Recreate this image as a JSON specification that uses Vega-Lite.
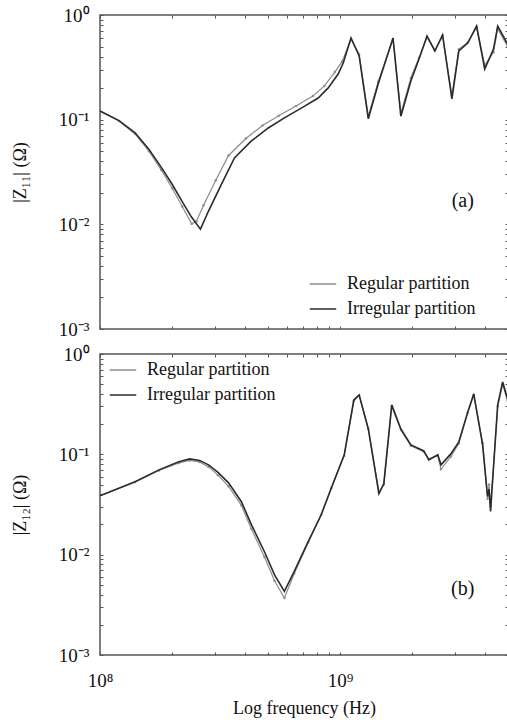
{
  "$schema": "https://vega.github.io/schema/vega-lite/v6.json",
  "padding": {"left": 10, "top": 5, "right": 0, "bottom": 2},
  "config": {
    "font": "Liberation Serif",
    "view": {"stroke": "#555555", "strokeWidth": 1.5},
    "axis": {
      "grid": false, "domain": false,
      "labelFont": "Liberation Serif", "labelFontSize": 19, "labelColor": "#111111",
      "titleFont": "Liberation Serif", "titleFontSize": 18, "titleFontWeight": "normal", "titleColor": "#111111",
      "tickColor": "#555555", "tickSize": -3, "labelOverlap": false, "labelFlush": false
    },
    "legend": {"labelFont": "Liberation Serif", "labelFontSize": 18, "labelColor": "#111111"}
  },
  "datasets": {
    "curves": [
      {"p": "a", "s": "Irregular partition", "f": 1.00e8, "z": 0.121},
      {"p": "a", "s": "Irregular partition", "f": 1.20e8, "z": 0.098},
      {"p": "a", "s": "Irregular partition", "f": 1.40e8, "z": 0.075},
      {"p": "a", "s": "Irregular partition", "f": 1.60e8, "z": 0.052},
      {"p": "a", "s": "Irregular partition", "f": 1.80e8, "z": 0.035},
      {"p": "a", "s": "Irregular partition", "f": 2.00e8, "z": 0.024},
      {"p": "a", "s": "Irregular partition", "f": 2.20e8, "z": 0.0165},
      {"p": "a", "s": "Irregular partition", "f": 2.40e8, "z": 0.0118},
      {"p": "a", "s": "Irregular partition", "f": 2.62e8, "z": 0.0090},
      {"p": "a", "s": "Irregular partition", "f": 2.83e8, "z": 0.0134},
      {"p": "a", "s": "Irregular partition", "f": 3.21e8, "z": 0.0243},
      {"p": "a", "s": "Irregular partition", "f": 3.63e8, "z": 0.0431},
      {"p": "a", "s": "Irregular partition", "f": 4.27e8, "z": 0.0626},
      {"p": "a", "s": "Irregular partition", "f": 5.02e8, "z": 0.0833},
      {"p": "a", "s": "Irregular partition", "f": 5.86e8, "z": 0.104},
      {"p": "a", "s": "Irregular partition", "f": 6.89e8, "z": 0.129},
      {"p": "a", "s": "Irregular partition", "f": 8.10e8, "z": 0.161},
      {"p": "a", "s": "Irregular partition", "f": 8.92e8, "z": 0.201},
      {"p": "a", "s": "Irregular partition", "f": 9.81e8, "z": 0.273},
      {"p": "a", "s": "Irregular partition", "f": 1.03e9, "z": 0.348},
      {"p": "a", "s": "Irregular partition", "f": 1.11e9, "z": 0.603},
      {"p": "a", "s": "Irregular partition", "f": 1.20e9, "z": 0.406},
      {"p": "a", "s": "Irregular partition", "f": 1.31e9, "z": 0.102},
      {"p": "a", "s": "Irregular partition", "f": 1.44e9, "z": 0.219},
      {"p": "a", "s": "Irregular partition", "f": 1.66e9, "z": 0.603},
      {"p": "a", "s": "Irregular partition", "f": 1.79e9, "z": 0.108},
      {"p": "a", "s": "Irregular partition", "f": 1.97e9, "z": 0.234},
      {"p": "a", "s": "Irregular partition", "f": 2.13e9, "z": 0.380},
      {"p": "a", "s": "Irregular partition", "f": 2.30e9, "z": 0.630},
      {"p": "a", "s": "Irregular partition", "f": 2.48e9, "z": 0.453},
      {"p": "a", "s": "Irregular partition", "f": 2.67e9, "z": 0.644},
      {"p": "a", "s": "Irregular partition", "f": 2.92e9, "z": 0.158},
      {"p": "a", "s": "Irregular partition", "f": 3.12e9, "z": 0.453},
      {"p": "a", "s": "Irregular partition", "f": 3.40e9, "z": 0.540},
      {"p": "a", "s": "Irregular partition", "f": 3.70e9, "z": 0.785},
      {"p": "a", "s": "Irregular partition", "f": 4.00e9, "z": 0.305},
      {"p": "a", "s": "Irregular partition", "f": 4.35e9, "z": 0.473},
      {"p": "a", "s": "Irregular partition", "f": 4.53e9, "z": 0.785},
      {"p": "a", "s": "Irregular partition", "f": 4.98e9, "z": 0.528},

      {"p": "a", "s": "Regular partition", "f": 1.00e8, "z": 0.121},
      {"p": "a", "s": "Regular partition", "f": 1.20e8, "z": 0.097},
      {"p": "a", "s": "Regular partition", "f": 1.40e8, "z": 0.073},
      {"p": "a", "s": "Regular partition", "f": 1.60e8, "z": 0.050},
      {"p": "a", "s": "Regular partition", "f": 1.80e8, "z": 0.033},
      {"p": "a", "s": "Regular partition", "f": 2.00e8, "z": 0.022},
      {"p": "a", "s": "Regular partition", "f": 2.20e8, "z": 0.0148},
      {"p": "a", "s": "Regular partition", "f": 2.41e8, "z": 0.0101},
      {"p": "a", "s": "Regular partition", "f": 2.52e8, "z": 0.0107},
      {"p": "a", "s": "Regular partition", "f": 2.70e8, "z": 0.0152},
      {"p": "a", "s": "Regular partition", "f": 3.03e8, "z": 0.0262},
      {"p": "a", "s": "Regular partition", "f": 3.43e8, "z": 0.0455},
      {"p": "a", "s": "Regular partition", "f": 4.05e8, "z": 0.066},
      {"p": "a", "s": "Regular partition", "f": 4.75e8, "z": 0.088},
      {"p": "a", "s": "Regular partition", "f": 5.55e8, "z": 0.109},
      {"p": "a", "s": "Regular partition", "f": 6.55e8, "z": 0.135},
      {"p": "a", "s": "Regular partition", "f": 7.70e8, "z": 0.168},
      {"p": "a", "s": "Regular partition", "f": 8.60e8, "z": 0.210},
      {"p": "a", "s": "Regular partition", "f": 9.50e8, "z": 0.285},
      {"p": "a", "s": "Regular partition", "f": 1.02e9, "z": 0.36},
      {"p": "a", "s": "Regular partition", "f": 1.11e9, "z": 0.59},
      {"p": "a", "s": "Regular partition", "f": 1.20e9, "z": 0.42},
      {"p": "a", "s": "Regular partition", "f": 1.31e9, "z": 0.108},
      {"p": "a", "s": "Regular partition", "f": 1.44e9, "z": 0.23},
      {"p": "a", "s": "Regular partition", "f": 1.66e9, "z": 0.59},
      {"p": "a", "s": "Regular partition", "f": 1.79e9, "z": 0.115},
      {"p": "a", "s": "Regular partition", "f": 1.97e9, "z": 0.25},
      {"p": "a", "s": "Regular partition", "f": 2.13e9, "z": 0.39},
      {"p": "a", "s": "Regular partition", "f": 2.30e9, "z": 0.61},
      {"p": "a", "s": "Regular partition", "f": 2.48e9, "z": 0.46},
      {"p": "a", "s": "Regular partition", "f": 2.67e9, "z": 0.63},
      {"p": "a", "s": "Regular partition", "f": 2.92e9, "z": 0.17},
      {"p": "a", "s": "Regular partition", "f": 3.12e9, "z": 0.47},
      {"p": "a", "s": "Regular partition", "f": 3.40e9, "z": 0.55},
      {"p": "a", "s": "Regular partition", "f": 3.70e9, "z": 0.76},
      {"p": "a", "s": "Regular partition", "f": 4.00e9, "z": 0.33},
      {"p": "a", "s": "Regular partition", "f": 4.35e9, "z": 0.44},
      {"p": "a", "s": "Regular partition", "f": 4.53e9, "z": 0.74},
      {"p": "a", "s": "Regular partition", "f": 4.98e9, "z": 0.50},

      {"p": "b", "s": "Irregular partition", "f": 1.00e8, "z": 0.0387},
      {"p": "b", "s": "Irregular partition", "f": 1.40e8, "z": 0.0532},
      {"p": "b", "s": "Irregular partition", "f": 1.76e8, "z": 0.070},
      {"p": "b", "s": "Irregular partition", "f": 2.13e8, "z": 0.0842},
      {"p": "b", "s": "Irregular partition", "f": 2.36e8, "z": 0.090},
      {"p": "b", "s": "Irregular partition", "f": 2.60e8, "z": 0.087},
      {"p": "b", "s": "Irregular partition", "f": 2.83e8, "z": 0.0786},
      {"p": "b", "s": "Irregular partition", "f": 3.10e8, "z": 0.066},
      {"p": "b", "s": "Irregular partition", "f": 3.43e8, "z": 0.052},
      {"p": "b", "s": "Irregular partition", "f": 3.88e8, "z": 0.0337},
      {"p": "b", "s": "Irregular partition", "f": 4.27e8, "z": 0.0199},
      {"p": "b", "s": "Irregular partition", "f": 4.84e8, "z": 0.0107},
      {"p": "b", "s": "Irregular partition", "f": 5.33e8, "z": 0.0063},
      {"p": "b", "s": "Irregular partition", "f": 5.86e8, "z": 0.0043},
      {"p": "b", "s": "Irregular partition", "f": 6.44e8, "z": 0.0068},
      {"p": "b", "s": "Irregular partition", "f": 7.36e8, "z": 0.0135},
      {"p": "b", "s": "Irregular partition", "f": 8.34e8, "z": 0.025},
      {"p": "b", "s": "Irregular partition", "f": 9.18e8, "z": 0.046},
      {"p": "b", "s": "Irregular partition", "f": 1.04e9, "z": 0.099},
      {"p": "b", "s": "Irregular partition", "f": 1.14e9, "z": 0.348},
      {"p": "b", "s": "Irregular partition", "f": 1.20e9, "z": 0.391},
      {"p": "b", "s": "Irregular partition", "f": 1.31e9, "z": 0.179},
      {"p": "b", "s": "Irregular partition", "f": 1.45e9, "z": 0.0405},
      {"p": "b", "s": "Irregular partition", "f": 1.52e9, "z": 0.0508},
      {"p": "b", "s": "Irregular partition", "f": 1.64e9, "z": 0.311},
      {"p": "b", "s": "Irregular partition", "f": 1.79e9, "z": 0.179},
      {"p": "b", "s": "Irregular partition", "f": 1.97e9, "z": 0.124},
      {"p": "b", "s": "Irregular partition", "f": 2.23e9, "z": 0.108},
      {"p": "b", "s": "Irregular partition", "f": 2.34e9, "z": 0.088},
      {"p": "b", "s": "Irregular partition", "f": 2.55e9, "z": 0.099},
      {"p": "b", "s": "Irregular partition", "f": 2.63e9, "z": 0.0786},
      {"p": "b", "s": "Irregular partition", "f": 2.89e9, "z": 0.101},
      {"p": "b", "s": "Irregular partition", "f": 3.12e9, "z": 0.133},
      {"p": "b", "s": "Irregular partition", "f": 3.40e9, "z": 0.265},
      {"p": "b", "s": "Irregular partition", "f": 3.60e9, "z": 0.400},
      {"p": "b", "s": "Irregular partition", "f": 3.92e9, "z": 0.124},
      {"p": "b", "s": "Irregular partition", "f": 4.11e9, "z": 0.038},
      {"p": "b", "s": "Irregular partition", "f": 4.17e9, "z": 0.045},
      {"p": "b", "s": "Irregular partition", "f": 4.23e9, "z": 0.027},
      {"p": "b", "s": "Irregular partition", "f": 4.53e9, "z": 0.311},
      {"p": "b", "s": "Irregular partition", "f": 4.75e9, "z": 0.526},
      {"p": "b", "s": "Irregular partition", "f": 4.98e9, "z": 0.356},

      {"p": "b", "s": "Regular partition", "f": 1.00e8, "z": 0.0387},
      {"p": "b", "s": "Regular partition", "f": 1.40e8, "z": 0.053},
      {"p": "b", "s": "Regular partition", "f": 1.76e8, "z": 0.069},
      {"p": "b", "s": "Regular partition", "f": 2.13e8, "z": 0.082},
      {"p": "b", "s": "Regular partition", "f": 2.36e8, "z": 0.087},
      {"p": "b", "s": "Regular partition", "f": 2.60e8, "z": 0.084},
      {"p": "b", "s": "Regular partition", "f": 2.83e8, "z": 0.075},
      {"p": "b", "s": "Regular partition", "f": 3.10e8, "z": 0.062},
      {"p": "b", "s": "Regular partition", "f": 3.43e8, "z": 0.048},
      {"p": "b", "s": "Regular partition", "f": 3.88e8, "z": 0.031},
      {"p": "b", "s": "Regular partition", "f": 4.27e8, "z": 0.018},
      {"p": "b", "s": "Regular partition", "f": 4.84e8, "z": 0.0095},
      {"p": "b", "s": "Regular partition", "f": 5.33e8, "z": 0.0055},
      {"p": "b", "s": "Regular partition", "f": 5.86e8, "z": 0.0037},
      {"p": "b", "s": "Regular partition", "f": 6.44e8, "z": 0.0065},
      {"p": "b", "s": "Regular partition", "f": 7.36e8, "z": 0.0132},
      {"p": "b", "s": "Regular partition", "f": 8.34e8, "z": 0.025},
      {"p": "b", "s": "Regular partition", "f": 9.18e8, "z": 0.046},
      {"p": "b", "s": "Regular partition", "f": 1.04e9, "z": 0.097},
      {"p": "b", "s": "Regular partition", "f": 1.14e9, "z": 0.34},
      {"p": "b", "s": "Regular partition", "f": 1.20e9, "z": 0.385},
      {"p": "b", "s": "Regular partition", "f": 1.31e9, "z": 0.18},
      {"p": "b", "s": "Regular partition", "f": 1.45e9, "z": 0.042},
      {"p": "b", "s": "Regular partition", "f": 1.52e9, "z": 0.050},
      {"p": "b", "s": "Regular partition", "f": 1.64e9, "z": 0.30},
      {"p": "b", "s": "Regular partition", "f": 1.79e9, "z": 0.175},
      {"p": "b", "s": "Regular partition", "f": 1.97e9, "z": 0.122},
      {"p": "b", "s": "Regular partition", "f": 2.23e9, "z": 0.106},
      {"p": "b", "s": "Regular partition", "f": 2.34e9, "z": 0.090},
      {"p": "b", "s": "Regular partition", "f": 2.55e9, "z": 0.097},
      {"p": "b", "s": "Regular partition", "f": 2.63e9, "z": 0.071},
      {"p": "b", "s": "Regular partition", "f": 2.89e9, "z": 0.095},
      {"p": "b", "s": "Regular partition", "f": 3.12e9, "z": 0.128},
      {"p": "b", "s": "Regular partition", "f": 3.40e9, "z": 0.26},
      {"p": "b", "s": "Regular partition", "f": 3.60e9, "z": 0.39},
      {"p": "b", "s": "Regular partition", "f": 3.92e9, "z": 0.13},
      {"p": "b", "s": "Regular partition", "f": 4.11e9, "z": 0.036},
      {"p": "b", "s": "Regular partition", "f": 4.17e9, "z": 0.05},
      {"p": "b", "s": "Regular partition", "f": 4.23e9, "z": 0.030},
      {"p": "b", "s": "Regular partition", "f": 4.53e9, "z": 0.30},
      {"p": "b", "s": "Regular partition", "f": 4.75e9, "z": 0.50},
      {"p": "b", "s": "Regular partition", "f": 4.98e9, "z": 0.34}
    ],
    "notes": [
      {"p": "a", "f": 3.24e9, "z": 0.0167, "t": "(a)"},
      {"p": "b", "f": 3.24e9, "z": 0.0046, "t": "(b)"}
    ]
  },
  "spacing": 4,
  "resolve": {"scale": {"color": "independent"}, "legend": {"color": "independent"}},
  "vconcat": [
    {
      "width": 408, "height": 314,
      "resolve": {"axis": {"x": "independent", "y": "independent"}},
      "layer": [
        {
          "data": {"name": "curves"},
          "transform": [{"filter": "datum.p == 'a' && datum.s == 'Regular partition'"}],
          "mark": {"type": "line", "strokeWidth": 1.2, "point": {"filled": true, "size": 6, "color": "#666666"}},
          "encoding": {
            "x": {"field": "f", "type": "quantitative", "scale": {"type": "log", "domain": [1e8, 5e9], "nice": false},
                  "axis": {"title": null, "labels": false, "values": [1e8,2e8,3e8,4e8,5e8,6e8,7e8,8e8,9e8,1e9,2e9,3e9,4e9,5e9]}},
            "y": {"field": "z", "type": "quantitative", "scale": {"type": "log", "domain": [0.001, 1], "nice": false},
                  "axis": {"title": "|Z₁₁| (Ω)", "titlePadding": 29, "labelPadding": 14,
                           "values": [0.001,0.002,0.003,0.004,0.005,0.006,0.007,0.008,0.009,0.01,0.02,0.03,0.04,0.05,0.06,0.07,0.08,0.09,0.1,0.2,0.3,0.4,0.5,0.6,0.7,0.8,0.9,1],
                           "labelExpr": "datum.value == 1 ? '10⁰' : datum.value == 0.1 ? '10⁻¹' : datum.value == 0.01 ? '10⁻²' : datum.value == 0.001 ? '10⁻³' : ''"}},
            "color": {"field": "s", "type": "nominal",
                      "scale": {"domain": ["Regular partition", "Irregular partition"], "range": ["#8c8c8c", "#2b2b2b"]},
                      "legend": {"title": null, "orient": "none", "legendX": 209, "legendY": 255, "symbolType": "stroke", "symbolSize": 700, "symbolStrokeWidth": 1.5, "rowPadding": 2, "labelOffset": 10}}
          }
        },
        {
          "data": {"name": "curves"},
          "transform": [{"filter": "datum.p == 'a' && datum.s == 'Irregular partition'"}],
          "mark": {"type": "line", "strokeWidth": 1.6},
          "encoding": {
            "x": {"field": "f", "type": "quantitative", "axis": {"orient": "top", "title": null, "labels": false, "values": [1e8,2e8,3e8,4e8,5e8,6e8,7e8,8e8,9e8,1e9,2e9,3e9,4e9,5e9]}},
            "y": {"field": "z", "type": "quantitative", "axis": {"orient": "right", "title": null, "labels": false, "values": [0.001,0.002,0.003,0.004,0.005,0.006,0.007,0.008,0.009,0.01,0.02,0.03,0.04,0.05,0.06,0.07,0.08,0.09,0.1,0.2,0.3,0.4,0.5,0.6,0.7,0.8,0.9,1]}},
            "color": {"field": "s", "type": "nominal"}
          }
        },
        {
          "data": {"name": "notes"},
          "transform": [{"filter": "datum.p == 'a'"}],
          "mark": {"type": "text", "fontSize": 20, "font": "Liberation Serif", "color": "#111111"},
          "encoding": {
            "x": {"field": "f", "type": "quantitative", "axis": null},
            "y": {"field": "z", "type": "quantitative", "axis": null},
            "text": {"field": "t"}
          }
        }
      ]
    },
    {
      "width": 408, "height": 301,
      "resolve": {"axis": {"x": "independent", "y": "independent"}},
      "layer": [
        {
          "data": {"name": "curves"},
          "transform": [{"filter": "datum.p == 'b' && datum.s == 'Regular partition'"}],
          "mark": {"type": "line", "strokeWidth": 1.2, "point": {"filled": true, "size": 6, "color": "#666666"}},
          "encoding": {
            "x": {"field": "f", "type": "quantitative", "scale": {"type": "log", "domain": [1e8, 5e9], "nice": false},
                  "axis": {"title": "Log frequency (Hz)", "titlePadding": 9, "labelPadding": 19,
                           "values": [1e8,2e8,3e8,4e8,5e8,6e8,7e8,8e8,9e8,1e9,2e9,3e9,4e9,5e9],
                           "labelExpr": "datum.value == 1e8 ? '10⁸' : datum.value == 1e9 ? '10⁹' : ''"}},
            "y": {"field": "z", "type": "quantitative", "scale": {"type": "log", "domain": [0.001, 1], "nice": false},
                  "axis": {"title": "|Z₁₂| (Ω)", "titlePadding": 29, "labelPadding": 14,
                           "values": [0.001,0.002,0.003,0.004,0.005,0.006,0.007,0.008,0.009,0.01,0.02,0.03,0.04,0.05,0.06,0.07,0.08,0.09,0.1,0.2,0.3,0.4,0.5,0.6,0.7,0.8,0.9,1],
                           "labelExpr": "datum.value == 1 ? '10⁰' : datum.value == 0.1 ? '10⁻¹' : datum.value == 0.01 ? '10⁻²' : datum.value == 0.001 ? '10⁻³' : ''"}},
            "color": {"field": "s", "type": "nominal",
                      "scale": {"domain": ["Regular partition", "Irregular partition"], "range": ["#8c8c8c", "#2b2b2b"]},
                      "legend": {"title": null, "orient": "none", "legendX": 9, "legendY": 2, "symbolType": "stroke", "symbolSize": 700, "symbolStrokeWidth": 1.5, "rowPadding": 2, "labelOffset": 10}}
          }
        },
        {
          "data": {"name": "curves"},
          "transform": [{"filter": "datum.p == 'b' && datum.s == 'Irregular partition'"}],
          "mark": {"type": "line", "strokeWidth": 1.6},
          "encoding": {
            "x": {"field": "f", "type": "quantitative", "axis": {"orient": "top", "title": null, "labels": false, "values": [1e8,2e8,3e8,4e8,5e8,6e8,7e8,8e8,9e8,1e9,2e9,3e9,4e9,5e9]}},
            "y": {"field": "z", "type": "quantitative", "axis": {"orient": "right", "title": null, "labels": false, "values": [0.001,0.002,0.003,0.004,0.005,0.006,0.007,0.008,0.009,0.01,0.02,0.03,0.04,0.05,0.06,0.07,0.08,0.09,0.1,0.2,0.3,0.4,0.5,0.6,0.7,0.8,0.9,1]}},
            "color": {"field": "s", "type": "nominal"}
          }
        },
        {
          "data": {"name": "notes"},
          "transform": [{"filter": "datum.p == 'b'"}],
          "mark": {"type": "text", "fontSize": 20, "font": "Liberation Serif", "color": "#111111"},
          "encoding": {
            "x": {"field": "f", "type": "quantitative", "axis": null},
            "y": {"field": "z", "type": "quantitative", "axis": null},
            "text": {"field": "t"}
          }
        }
      ]
    }
  ]
}
